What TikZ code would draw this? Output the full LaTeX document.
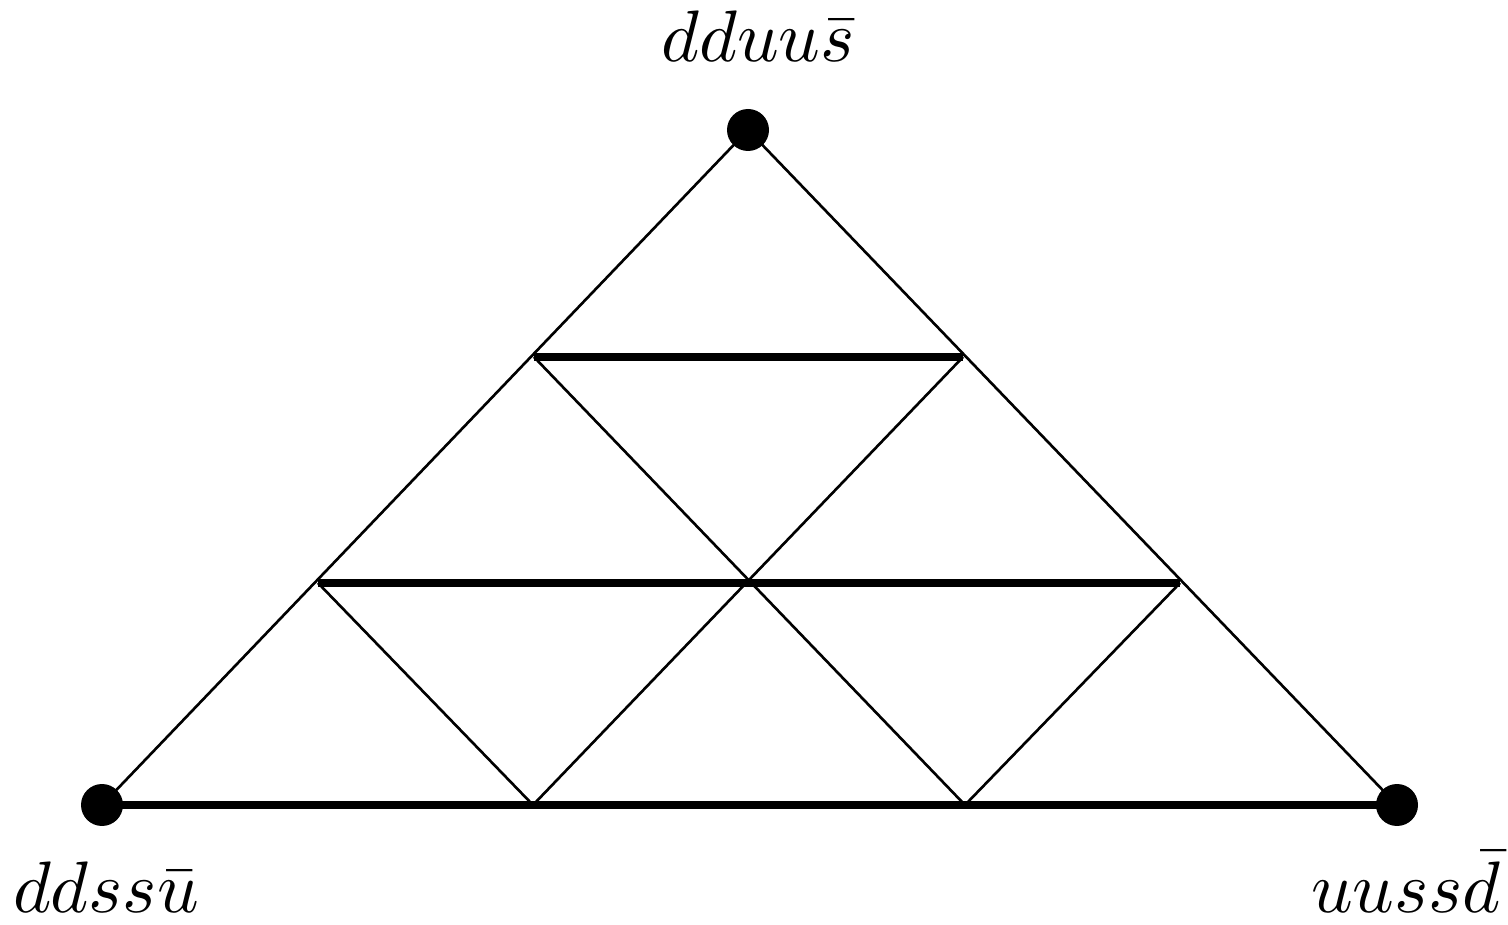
\documentclass[tikz,border=0pt]{standalone}
\begin{document}
\begin{tikzpicture}[x=0.02cm,y=-0.02cm,
  thin line/.style={line width=1.5pt},
  thick line/.style={line width=4pt},
  vertex/.style={circle,fill=black,inner sep=0pt,minimum size=0.84cm},
  lab/.style={inner sep=0pt,anchor=base,scale=4.15}]
\useasboundingbox (0,0) rectangle (1508,925);
% grid points
\coordinate (A) at (748,130);
\coordinate (L1) at (534,357);
\coordinate (R1) at (963,357);
\coordinate (L2) at (318,583);
\coordinate (M2) at (748,583);
\coordinate (R2) at (1180,583);
\coordinate (B0) at (102,805);
\coordinate (B1) at (533,805);
\coordinate (B2) at (965,805);
\coordinate (B3) at (1397,805);
% thin diagonals
\draw[thin line] (B0) -- (A) -- (B3);
\draw[thin line] (L2) -- (B1) -- (R1);
\draw[thin line] (L1) -- (B2) -- (R2);
% thick horizontals
\draw[thick line] (L1) -- (R1);
\draw[thick line] (L2) -- (R2);
\draw[thick line] (B0) -- (B3);
% vertices
\node[vertex] (vA) at (A) {};
\node[vertex] (vL) at (B0) {};
\node[vertex] (vR) at (B3) {};
% labels
\node[lab] (tA) at (758,62) {$dduu\bar{s}$};
\node[lab] (tL) at (106,912) {$ddss\bar{u}$};
\node[lab] (tR) at (1406,912) {$uuss\bar{d}$};
\end{tikzpicture}
\end{document}
